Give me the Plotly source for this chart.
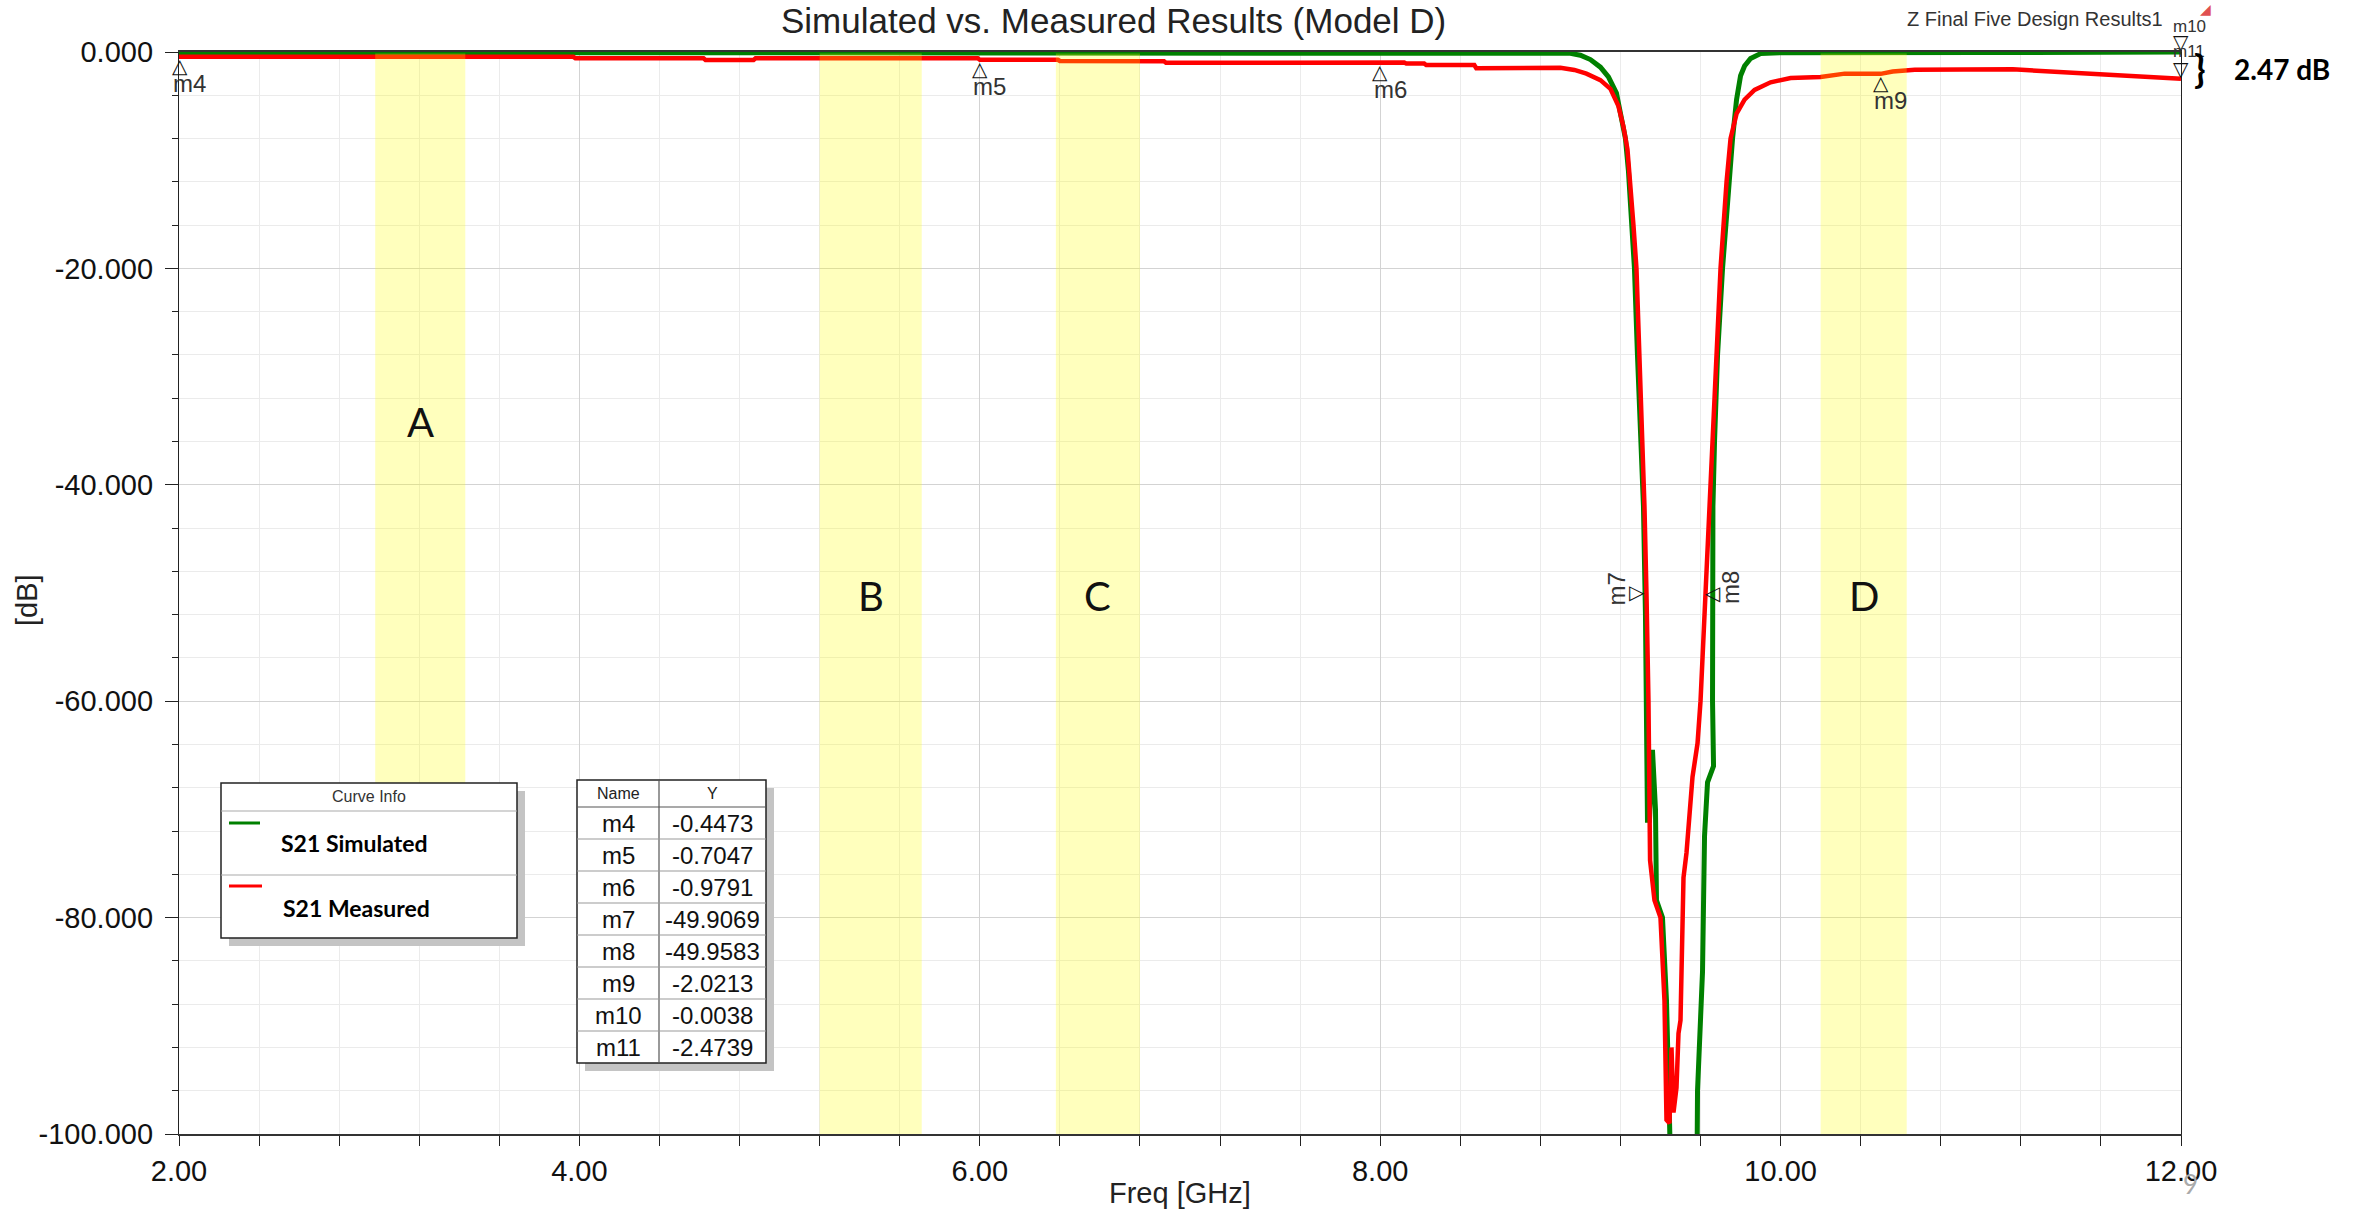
import plotly.graph_objects as go

# ---------------- data ----------------
sim_freq = [2.0, 8.9, 8.95, 9.0, 9.05, 9.1, 9.14, 9.18, 9.2, 9.225, 9.24, 9.255, 9.27, 9.285, 9.30,
            9.315, 9.325, 9.33, 9.335, 9.345, 9.36, 9.375, 9.38, 9.41, 9.43, 9.44, 9.45, 9.46,
            9.58, 9.585, 9.61, 9.615, 9.62, 9.635, 9.665, 9.66, 9.662, 9.67, 9.685, 9.71, 9.74,
            9.76, 9.78, 9.80, 9.82, 9.85, 9.9, 10.0, 11.0, 12.0]
sim_db = [-0.05, -0.05, -0.12, -0.3, -0.7, -1.4, -2.3, -3.8, -5.5, -8.0, -11.0, -15.0, -20.0, -28.0, -36.0,
          -42.0, -52.0, -60.0, -71.0, -71.0, -64.5, -70.0, -78.4, -80.0, -87.7, -95.0, -100.0, -110.0,
          -110.0, -96.0, -85.0, -78.0, -72.5, -67.5, -66.0, -60.0, -42.0, -36.0, -28.0, -20.0, -12.0,
          -8.0, -4.4, -2.2, -1.3, -0.6, -0.15, -0.06, -0.05, -0.0038]

meas_freq = [2.0, 3.97, 3.98, 4.62, 4.63, 4.87, 4.88, 5.99, 6.0, 6.39, 6.4, 6.92, 6.93, 7.36, 7.37,
             8.12, 8.13, 8.22, 8.23, 8.47, 8.48, 8.72, 8.73, 8.9, 8.97, 9.03, 9.1, 9.15, 9.19, 9.215,
             9.235, 9.25, 9.265, 9.28, 9.295, 9.31, 9.32, 9.33, 9.34, 9.348, 9.37, 9.40, 9.42, 9.43,
             9.445, 9.455, 9.465, 9.48, 9.49, 9.50, 9.51, 9.515, 9.53, 9.55, 9.56, 9.585, 9.60, 9.625,
             9.645, 9.655, 9.675, 9.70, 9.73, 9.75, 9.78, 9.82, 9.87, 9.95, 10.05, 10.2, 10.32, 10.45,
             10.5, 10.56, 10.67, 11.16, 11.34, 11.6, 11.8, 12.0]
meas_db = [-0.45, -0.45, -0.58, -0.58, -0.74, -0.74, -0.58, -0.58, -0.72, -0.72, -0.83, -0.85, -0.99, -0.99, -0.95,
           -0.98, -1.07, -1.07, -1.2, -1.2, -1.5, -1.5, -1.45, -1.45, -1.66, -2.0, -2.6, -3.4, -5.0, -6.9,
           -9.0, -12.0, -16.0, -20.0, -28.0, -36.0, -42.0, -50.0, -60.0, -74.7, -78.4, -80.0, -87.7, -98.7,
           -99.0, -92.0, -98.0, -95.7, -90.7, -89.5, -82.4, -76.3, -74.0, -69.2, -67.0, -63.9, -60.0, -50.0,
           -42.0, -36.0, -28.0, -20.0, -12.0, -8.0, -5.7, -4.4, -3.5, -2.8, -2.4, -2.3, -2.0, -2.05,
           -2.02, -1.8, -1.65, -1.6, -1.8, -2.05, -2.35, -2.47]

series_names = ["S21 Simulated", "S21 Measured"]

marker_names = ["m4", "m5", "m6", "m7", "m8", "m9", "m10", "m11"]
marker_freqs = [2.0, 6.0, 8.0, 9.325, 9.625, 10.5, 12.0, 12.0]
marker_vals = [-0.4473, -0.7047, -0.9791, -49.9069, -49.9583, -2.0213, -0.0038, -2.4739]

band_names = ["A", "B", "C", "D"]
band_start = [2.98, 5.20, 6.38, 10.20]
band_end = [3.43, 5.71, 6.80, 10.63]

x_tick_vals = [2, 4, 6, 8, 10, 12]
x_tick_text = ["2.00", "4.00", "6.00", "8.00", "10.00", "12.00"]
y_tick_vals = [0, -20, -40, -60, -80, -100]
y_tick_text = ["0.000", "-20.000", "-40.000", "-60.000", "-80.000", "-100.000"]

title_text = "Simulated vs. Measured Results (Model D)"
corner_text = "Z Final Five Design Results1"
delta_text = "2.47 dB"

# ---------------- layout geometry ----------------
W, H = 2358, 1210
L, R, T, B = 179, 2181, 52, 1134


def px(x):
    return (x - L) / (R - L)


def py(y):
    return (B - y) / (B - T)


GREEN = "#008000"
RED = "#FF0000"
FONT = "Liberation Sans, Arial, sans-serif"
CAL = "Lato, Open Sans, sans-serif"

fig = go.Figure()
fig.add_trace(go.Scatter(x=sim_freq, y=sim_db, mode="lines", name=series_names[0],
                         line=dict(color=GREEN, width=5), hoverinfo="skip"))
fig.add_trace(go.Scatter(x=meas_freq, y=meas_db, mode="lines", name=series_names[1],
                         line=dict(color=RED, width=4.5), hoverinfo="skip"))

shapes = []
annotations = []

# yellow bands (drawn over the curves, semi-transparent)
band_bottom = [-67.6, -100, -100, -100]
band_label_y = [-34.2, -50.3, -50.3, -50.3]
for name, x0, x1, yb, ly in zip(band_names, band_start, band_end, band_bottom, band_label_y):
    shapes.append(dict(type="rect", xref="x", yref="y", x0=x0, x1=x1, y0=-0.15, y1=yb,
                       fillcolor="rgba(255,255,0,0.26)", line=dict(width=0), layer="above"))
    annotations.append(dict(x=(x0 + x1) / 2, y=ly, xref="x", yref="y", text=name, showarrow=False,
                            font=dict(family=CAL, size=40, color="#111"), xanchor="center", yanchor="middle"))


def rect(x0, y0, x1, y1, fill, lc="black", lw=1.5):
    shapes.append(dict(type="rect", xref="paper", yref="paper", x0=px(x0), x1=px(x1), y0=py(y1), y1=py(y0),
                       fillcolor=fill, line=dict(color=lc, width=lw), layer="above"))


def hline(x0, x1, y, color, width):
    shapes.append(dict(type="line", xref="paper", yref="paper", x0=px(x0), x1=px(x1), y0=py(y), y1=py(y),
                       line=dict(color=color, width=width), layer="above"))


def vline(x, y0, y1, color, width):
    shapes.append(dict(type="line", xref="paper", yref="paper", x0=px(x), x1=px(x), y0=py(y0), y1=py(y1),
                       line=dict(color=color, width=width), layer="above"))


def text(x, y, s, size, color="#111", family=FONT, xanchor="center", angle=0):
    annotations.append(dict(x=px(x), y=py(y), xref="paper", yref="paper", text=s, showarrow=False,
                            font=dict(family=family, size=size, color=color), xanchor=xanchor,
                            yanchor="middle", textangle=angle))


# ----- Curve Info legend box -----
rect(229, 791, 525, 946, "#c4c4c4", lc="#c4c4c4", lw=0)
rect(221, 783, 517, 938, "white", lc="#222", lw=1.5)
hline(221, 517, 811, "#aaaaaa", 1.2)
hline(221, 517, 875, "#aaaaaa", 1.2)
text(369, 797, "Curve Info", 16, "#333")
hline(229, 260, 823, GREEN, 3)
text(279, 843, "<b>" + series_names[0] + "</b>", 23, "#000", family=CAL, xanchor="left")
hline(229, 262, 886, RED, 3)
text(281, 908, "<b>" + series_names[1] + "</b>", 23, "#000", family=CAL, xanchor="left")

# ----- Marker table -----
tx0, tx1, tcol = 577, 766, 659
ty0, th, rh = 780, 27, 32
nrows = len(marker_names)
ty1 = ty0 + th + rh * nrows
rect(tx0 + 8, ty0 + 8, tx1 + 8, ty1 + 8, "#c4c4c4", lc="#c4c4c4", lw=0)
rect(tx0, ty0, tx1, ty1, "white", lc="#222", lw=1.5)
vline(tcol, ty0, ty1, "#555", 1.2)
for i in range(nrows):
    hline(tx0, tx1, ty0 + th + rh * i, "#555" if i == 0 else "#999", 1.2)
text((tx0 + tcol) / 2, ty0 + th / 2, "Name", 16, "#222")
text((tcol + tx1) / 2, ty0 + th / 2, "Y", 16, "#222")
for i, (n, v) in enumerate(zip(marker_names, marker_vals)):
    yc = ty0 + th + rh * i + rh / 2
    text((tx0 + tcol) / 2, yc, n, 24, "#111")
    text((tcol + tx1) / 2, yc, f"{v:.4f}", 24, "#111")

# ----- markers on the curves -----
# style: (glyph, glyph dx, glyph dy, label dx, label dy, label size, label angle)
marker_style = {
    "m4": ("△", 1, -9, 10, -27, 24, 0),
    "m5": ("△", 0, -9, 10, -27, 24, 0),
    "m6": ("△", 0, -9, 10, -27, 24, 0),
    "m7": ("▷", -8, 0, -28, 3, 24, -90),
    "m8": ("◁", 7, 0, 25, 5, 24, -90),
    "m9": ("△", 0, -9, 10, -27, 24, 0),
    "m10": ("▽", 0, 10, 8, 26, 17, 0),
    "m11": ("▽", 0, 10, 8, 27, 17, 0),
}
for n, f, v in zip(marker_names, marker_freqs, marker_vals):
    g, gdx, gdy, ldx, ldy, lsz, lang = marker_style[n]
    annotations.append(dict(x=f, y=v, xref="x", yref="y", text=g, showarrow=False,
                            font=dict(family="DejaVu Sans", size=20, color="#111"),
                            xshift=gdx, yshift=gdy, xanchor="center", yanchor="middle"))
    annotations.append(dict(x=f, y=v, xref="x", yref="y", text=n, showarrow=False,
                            font=dict(family=FONT, size=lsz, color="#333"), textangle=lang,
                            xshift=ldx, yshift=ldy, xanchor="center", yanchor="middle"))

# ----- titles and other text -----
text(1113, 21, title_text, 35, "#222")
text(2035, 19, corner_text, 20, "#333")
text(2205, 9, "◢", 14, "#e05050", family="DejaVu Sans")
text(2200, 68, "<b>}</b>", 38, "#000", family=CAL)
text(2232, 69, "<b>" + delta_text + "</b>", 28, "#000", family=CAL, xanchor="left")
text(1180, 1193, "Freq [GHz]", 29, "#222")
text(27, 600, "[dB]", 29, "#222", angle=-90)
text(2190, 1184, "9", 26, "#aaaaaa", family=CAL)

fig.update_layout(
    width=W, height=H,
    margin=dict(l=L, r=W - R, t=T, b=H - B, autoexpand=False),
    paper_bgcolor="white", plot_bgcolor="white",
    showlegend=False,
    shapes=shapes, annotations=annotations,
    font=dict(family=FONT, color="#111"),
)
fig.update_xaxes(
    range=[2, 12], tickvals=x_tick_vals, ticktext=x_tick_text,
    tickfont=dict(family=FONT, size=29, color="#111"),
    ticks="outside", ticklen=10, tickcolor="#222",
    showgrid=True, gridcolor="#d3d3d3", gridwidth=1.3,
    minor=dict(dtick=0.4, tick0=2, ticks="outside", ticklen=10, tickcolor="#222",
               showgrid=True, gridcolor="#ebebeb", gridwidth=1.3),
    showline=True, linecolor="#333", linewidth=2, mirror=True, zeroline=False,
)
fig.update_yaxes(
    range=[-100, 0], tickvals=y_tick_vals, ticktext=y_tick_text,
    tickfont=dict(family=FONT, size=29, color="#111"),
    ticks="outside", ticklen=13, tickcolor="#222", ticklabelstandoff=6,
    showgrid=True, gridcolor="#d3d3d3", gridwidth=1.3,
    minor=dict(dtick=4, tick0=0, ticks="outside", ticklen=6, tickcolor="#222",
               showgrid=True, gridcolor="#ebebeb", gridwidth=1.3),
    showline=True, linecolor="#222", linewidth=1.3, mirror=True, zeroline=False,
)

fig.write_html("out.html")
